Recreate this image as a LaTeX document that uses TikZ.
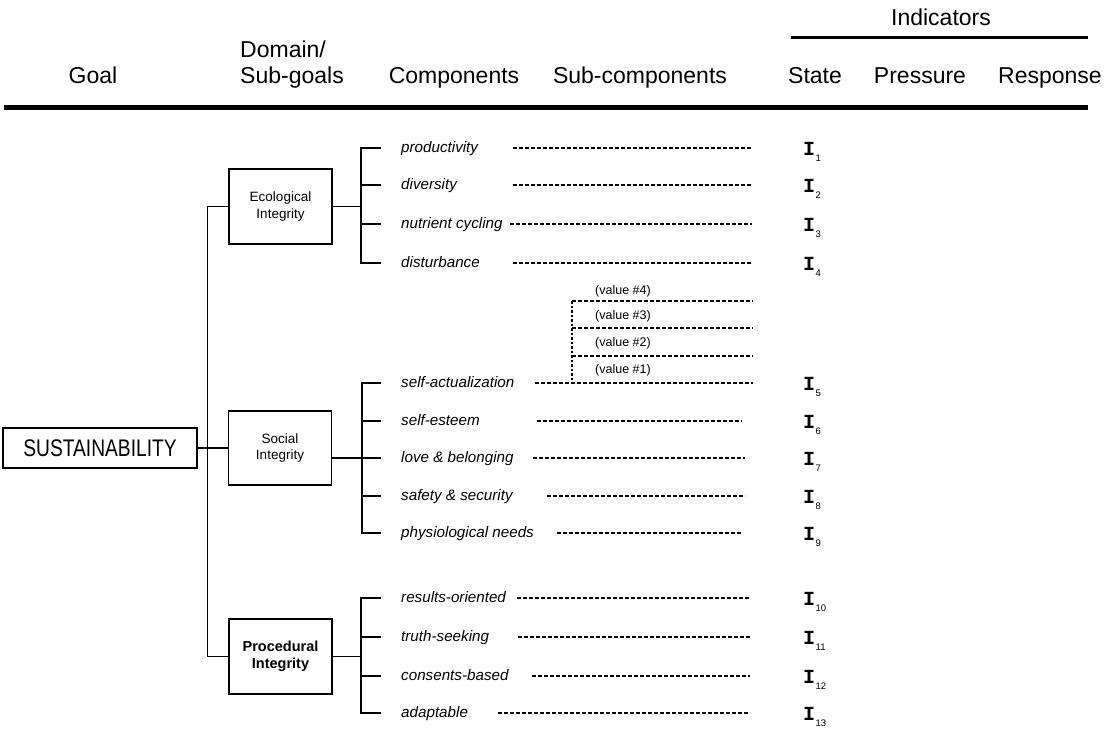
\documentclass[tikz,border=0pt]{standalone}
\usepackage{fontspec}
\setmainfont{Liberation Sans}
\newfontfamily\narrowsans[FakeStretch=0.8]{Liberation Sans}
\newfontfamily\monoI{Liberation Mono}
\begin{document}
\begin{tikzpicture}[x=1pt,y=-1pt,
  hdr/.style={font=\fontsize{23}{27}\selectfont, inner sep=0pt, anchor=base},
  comp/.style={font=\fontsize{15.2}{18}\selectfont\itshape, inner sep=0pt, anchor=base west},
  dombox/.style={draw, line width=1.4pt, minimum width=103pt, minimum height=75pt, align=center, inner sep=0pt},
  domfont/.style={font=\fontsize{13.5}{16.5}\selectfont},
  conn/.style={line width=1.4pt},
  dline/.style={line width=1.3pt, dash pattern=on 3.5pt off 2.5pt},
  vline/.style={line width=1.3pt, dash pattern=on 2.5pt off 2pt},
  val/.style={font=\fontsize{12.5}{15}\selectfont, inner sep=0pt},
  indI/.style={inner sep=0pt, anchor=base west}
]
\useasboundingbox (0,0) rectangle (1107,731);

% ---------- header ----------
\node[hdr] (goal) at (93,83) {Goal};
\node[hdr, anchor=base west] (dom1) at (240,57) {Domain/};
\node[hdr, anchor=base west] (dom2) at (240,83) {Sub-goals};
\node[hdr] (compH) at (454,83) {Components};
\node[hdr] (subH) at (640,83) {Sub-components};
\node[hdr] (state) at (815,83) {State};
\node[hdr] (press) at (920,83) {Pressure};
\node[hdr] (resp) at (1050,83) {Response};
\node[hdr] (indH) at (941,25) {Indicators};
\coordinate (il1) at (791,37);
\coordinate (il2) at (1088,37);
\draw[line width=3pt] (il1) -- (il2);
\coordinate (tl1) at (4,107);
\coordinate (tl2) at (1088,107);
\draw[line width=5pt] (tl1) -- (tl2);

% ---------- goal and domains ----------
\node[draw, line width=1.4pt, minimum width=194pt, minimum height=40pt, inner sep=0pt,
      font=\narrowsans\fontsize{24}{24}\selectfont] (sus) at (100,448) {SUSTAINABILITY};
\node[dombox, domfont] (eco) at (280.5,206.5) {Ecological\\Integrity};
\node[dombox, domfont, minimum height=74pt] (soc) at (280,448) {Social\\Integrity};
\node[dombox, font=\fontsize{14.5}{17}\selectfont\bfseries] (proc) at (280.5,656.5) {Procedural\\Integrity};

\draw[conn] (eco.west) -- ++(-21,0) |- (proc.west);
\draw[conn] (sus.east) -- (soc.west);

% ---------- components ----------
\foreach \i/\y/\t/\ds/\de in {
  1/148/productivity/513/752,
  2/185/diversity/513/752,
  3/224/nutrient cycling/510/752,
  4/263/disturbance/513/752,
  5/383/self-actualization/535/753,
  6/421/self-esteem/537/742,
  7/458/love \& belonging/533/745,
  8/496/safety \& security/547/745,
  9/533/physiological needs/557/742,
  10/598/results-oriented/517/750,
  11/637/truth-seeking/518/750,
  12/676/consents-based/532/750,
  13/713/adaptable/498/750}{
  \node[comp] (c\i) at (401,\y+4.5) {\t};
  \coordinate (t\i) at (381,\y);
  \coordinate (ds\i) at (\ds,\y);
  \coordinate (de\i) at (\de,\y);
  \draw[dline] (ds\i) -- (de\i);
  \node[indI] (I\i) at (803,\y+7.5) {{\monoI\bfseries\fontsize{20}{20}\selectfont I}\kern0.5pt\raisebox{-6pt}{\fontsize{9.5}{10}\selectfont\i}};
}

% brackets
\draw[conn] (t1) -- ++(-20,0) |- (t4);
\draw[conn] (t2) -- ++(-20,0);
\draw[conn] (t3) -- ++(-20,0);
\draw[conn] (eco.east) -- ++(29,0);

\draw[conn] (t5) -- ++(-19,0) |- (t9);
\draw[conn] (t6) -- ++(-19,0);
\draw[conn] (t8) -- ++(-19,0);
\draw[conn] (soc.east |- t7) -- (t7);

\draw[conn] (t10) -- ++(-20,0) |- (t13);
\draw[conn] (t11) -- ++(-20,0);
\draw[conn] (t12) -- ++(-20,0);
\draw[conn] (proc.east) -- ++(29,0);

% ---------- values ----------
\coordinate (vtop) at (572,301);
\coordinate (vbot) at (572,383);
\coordinate (v4s) at (572,301);
\coordinate (v4e) at (753,301);
\coordinate (v3s) at (572,328);
\coordinate (v3e) at (753,328);
\coordinate (v2s) at (572,356);
\coordinate (v2e) at (753,356);
\draw[vline] (vtop) -- (vbot);
\draw[dline] (v4s) -- (v4e);
\draw[dline] (v3s) -- (v3e);
\draw[dline] (v2s) -- (v2e);
\node[val] (val4) at (623,291) {(value \#4)};
\node[val] (val3) at (623,316) {(value \#3)};
\node[val] (val2) at (623,343) {(value \#2)};
\node[val] (val1) at (623,370) {(value \#1)};
\end{tikzpicture}
\end{document}
